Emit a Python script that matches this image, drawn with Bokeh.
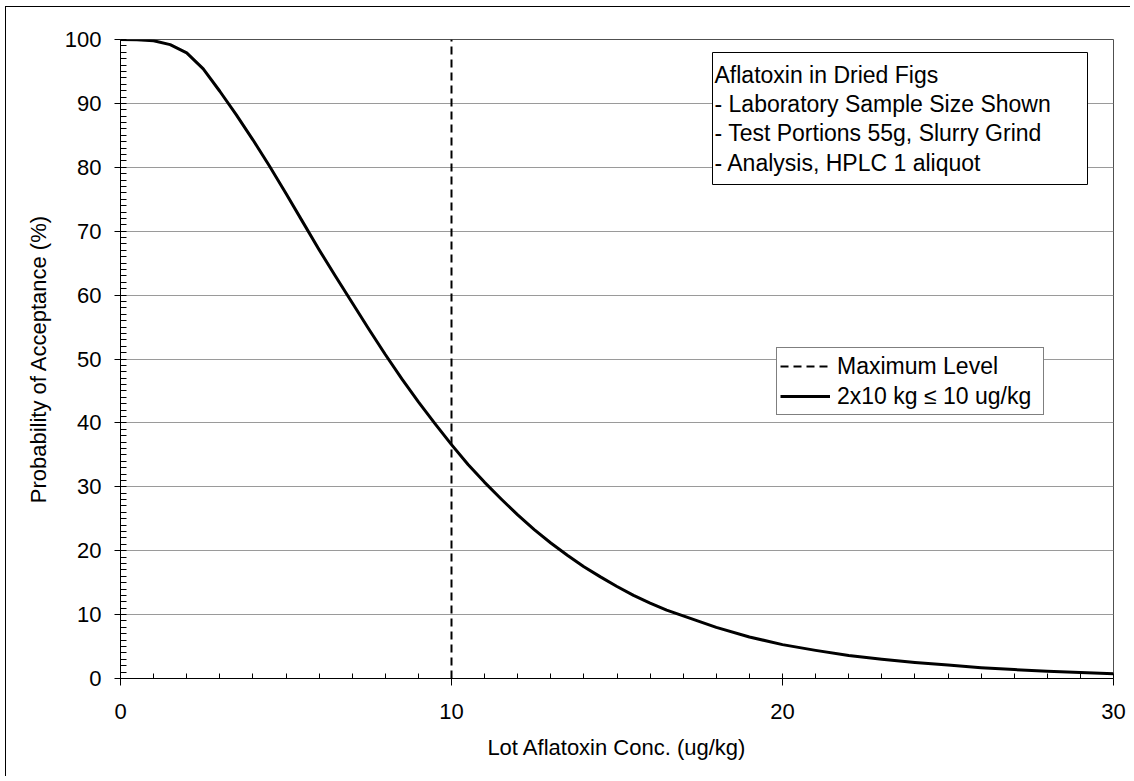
from bokeh.plotting import figure
from bokeh.models import (Range1d, SingleIntervalTicker, Legend, LegendItem, Label,
                          BoxAnnotation)
from bokeh.embed import file_html
from bokeh.resources import INLINE

# ---- data ----
conc = [0, 0.5, 1, 1.5, 2, 2.5, 3, 3.5, 4, 4.5, 5, 5.5, 6, 6.5, 7, 7.5, 8, 8.5, 9, 9.5,
        10, 10.5, 11, 11.5, 12, 12.5, 13, 13.5, 14, 14.5, 15, 15.5, 16, 16.5, 17,
        18, 19, 20, 21, 22, 23, 24, 25, 26, 27, 28, 29, 30]
prob_accept = [100.0, 99.97, 99.8, 99.2, 97.9, 95.4, 91.9, 88.2, 84.3, 80.2, 75.9,
               71.5, 67.1, 62.9, 58.8, 54.7, 50.7, 46.9, 43.3, 39.9,
               36.6, 33.5, 30.7, 28.1, 25.6, 23.3, 21.2, 19.3, 17.5, 15.9, 14.4,
               13.0, 11.8, 10.7, 9.8, 8.0, 6.5, 5.3,
               4.4, 3.6, 3.0, 2.5, 2.1, 1.7, 1.4, 1.15, 0.95, 0.75]
max_level = 10
y_limits = [0, 100]
x_limits = [0, 30]
series_name = "2x10 kg \u2264 10 ug/kg"
max_name = "Maximum Level"
x_title = "Lot Aflatoxin Conc. (ug/kg)"
y_title = "Probability of Acceptance (%)"
note_lines = ["Aflatoxin in Dried Figs",
              "- Laboratory Sample Size Shown",
              "- Test Portions 55g, Slurry Grind",
              "- Analysis, HPLC 1 aliquot"]

FONT = "Liberation Sans"

p = figure(width=1125, height=770, output_backend="svg", toolbar_location=None,
           x_range=Range1d(*x_limits), y_range=Range1d(*y_limits),
           min_border_left=114, min_border_right=18, min_border_top=32,
           min_border_bottom=99)
p.styles = {"border-left": "1px solid black", "border-top": "1px solid black",
            "margin-left": "5px", "margin-top": "6px"}
p.background_fill_color = "white"
p.border_fill_color = "white"
p.outline_line_color = "#505050"
p.outline_line_width = 1

# axes
p.xaxis.ticker = SingleIntervalTicker(interval=10, num_minor_ticks=10)
p.yaxis.ticker = SingleIntervalTicker(interval=10, num_minor_ticks=10)
for ax in (p.xaxis[0], p.yaxis[0]):
    ax.axis_line_color = "black"
    ax.axis_line_width = 1
    ax.major_tick_line_color = "black"
    ax.minor_tick_line_color = "black"
    ax.major_tick_in = 0
    ax.minor_tick_out = 0
    ax.major_label_text_font = FONT
    ax.major_label_text_font_size = "22px"
    ax.major_label_text_color = "black"
    ax.axis_label_text_font = FONT
    ax.axis_label_text_font_size = "22px"
    ax.axis_label_text_font_style = "normal"
    ax.axis_label_text_color = "black"
p.xaxis.major_tick_out = 7
p.xaxis.minor_tick_in = 5
p.yaxis.major_tick_out = 6
p.yaxis.minor_tick_in = 6
p.xaxis.major_label_standoff = 18
p.yaxis.major_label_standoff = 13
p.xaxis.axis_label = x_title
p.yaxis.axis_label = y_title
p.xaxis.axis_label_standoff = 13
p.yaxis.axis_label_standoff = 11

p.xgrid.visible = False
p.ygrid.grid_line_color = "#9a9a9a"
p.ygrid.grid_line_width = 1

# maximum level (vertical dashed line)
r_max = p.line([max_level, max_level], y_limits, line_color="black",
               line_width=2, line_dash="8 5")
# OC curve
r_curve = p.line(conc, prob_accept, line_color="black", line_width=3,
                 line_join="round")

legend = Legend(items=[LegendItem(label=max_name, renderers=[r_max]),
                       LegendItem(label=series_name, renderers=[r_curve])],
                location=(656, 263))
legend.label_text_font = FONT
legend.label_text_font_size = "23px"
legend.label_text_color = "black"
legend.glyph_width = 50
legend.glyph_height = 30
legend.label_height = 30
legend.label_width = 203
legend.label_standoff = 7
legend.spacing = 0
legend.padding = 3
legend.margin = 0
legend.border_line_color = "black"
legend.border_line_width = 1
legend.background_fill_color = "white"
legend.background_fill_alpha = 1
p.add_layout(legend, "center")

# note box (screen units relative to the plot frame)
box = BoxAnnotation(left=592, right=967, top=626, bottom=494,
                    left_units="screen", right_units="screen",
                    top_units="screen", bottom_units="screen",
                    fill_color="white", fill_alpha=1,
                    line_color="black", line_width=1, line_alpha=1)
p.add_layout(box)
first_baseline = 604
line_step = 29.4
for i, line in enumerate(note_lines):
    p.add_layout(Label(x=594, y=first_baseline - i * line_step,
                       x_units="screen", y_units="screen", text=line,
                       text_baseline="alphabetic", text_align="left",
                       text_font=FONT, text_font_size="23px", text_color="black"))

open("out.html", "w").write(file_html(p, INLINE))
